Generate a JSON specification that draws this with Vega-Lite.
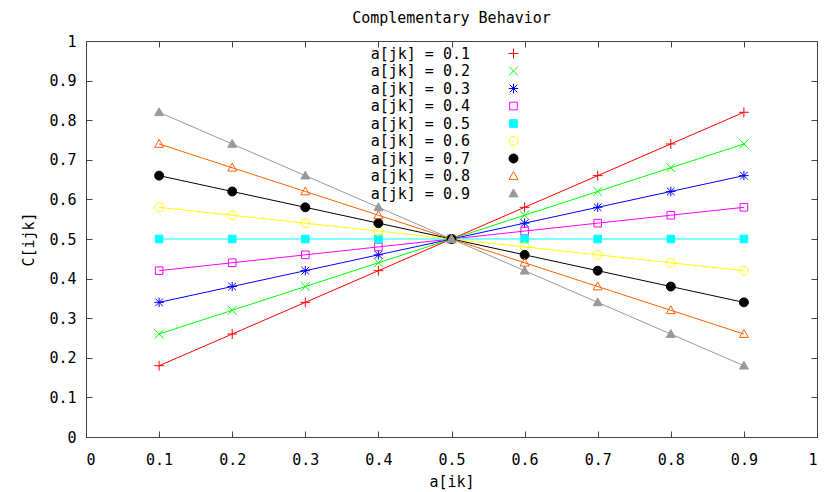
{
  "$schema": "https://vega.github.io/schema/vega-lite/v6.json",
  "width": 731,
  "height": 396,
  "autosize": {"type": "none"},
  "padding": {"left": 86, "top": 41, "right": 16, "bottom": 55},
  "background": "white",
  "title": {"text": "Complementary Behavior", "font": "DejaVu Sans Mono", "fontSize": 15, "fontWeight": "normal", "color": "black", "offset": 8, "anchor": "middle"},
  "config": {
    "view": {"stroke": null},
    "axis": {"labelFont": "DejaVu Sans Mono", "labelFontSize": 15, "labelColor": "black", "titleFont": "DejaVu Sans Mono", "titleFontSize": 15, "titleFontWeight": "normal", "titleColor": "black", "domainColor": "#444444", "tickColor": "#444444", "grid": false, "tickSize": -6, "labelPadding": 16}
  },
  "data": {"values": [
    {"s":"a[jk] = 0.1","x":0.1,"y":0.18},{"s":"a[jk] = 0.1","x":0.2,"y":0.26},{"s":"a[jk] = 0.1","x":0.3,"y":0.34},{"s":"a[jk] = 0.1","x":0.4,"y":0.42},{"s":"a[jk] = 0.1","x":0.5,"y":0.5},{"s":"a[jk] = 0.1","x":0.6,"y":0.58},{"s":"a[jk] = 0.1","x":0.7,"y":0.66},{"s":"a[jk] = 0.1","x":0.8,"y":0.74},{"s":"a[jk] = 0.1","x":0.9,"y":0.82},
    {"s":"a[jk] = 0.2","x":0.1,"y":0.26},{"s":"a[jk] = 0.2","x":0.2,"y":0.32},{"s":"a[jk] = 0.2","x":0.3,"y":0.38},{"s":"a[jk] = 0.2","x":0.4,"y":0.44},{"s":"a[jk] = 0.2","x":0.5,"y":0.5},{"s":"a[jk] = 0.2","x":0.6,"y":0.56},{"s":"a[jk] = 0.2","x":0.7,"y":0.62},{"s":"a[jk] = 0.2","x":0.8,"y":0.68},{"s":"a[jk] = 0.2","x":0.9,"y":0.74},
    {"s":"a[jk] = 0.3","x":0.1,"y":0.34},{"s":"a[jk] = 0.3","x":0.2,"y":0.38},{"s":"a[jk] = 0.3","x":0.3,"y":0.42},{"s":"a[jk] = 0.3","x":0.4,"y":0.46},{"s":"a[jk] = 0.3","x":0.5,"y":0.5},{"s":"a[jk] = 0.3","x":0.6,"y":0.54},{"s":"a[jk] = 0.3","x":0.7,"y":0.58},{"s":"a[jk] = 0.3","x":0.8,"y":0.62},{"s":"a[jk] = 0.3","x":0.9,"y":0.66},
    {"s":"a[jk] = 0.4","x":0.1,"y":0.42},{"s":"a[jk] = 0.4","x":0.2,"y":0.44},{"s":"a[jk] = 0.4","x":0.3,"y":0.46},{"s":"a[jk] = 0.4","x":0.4,"y":0.48},{"s":"a[jk] = 0.4","x":0.5,"y":0.5},{"s":"a[jk] = 0.4","x":0.6,"y":0.52},{"s":"a[jk] = 0.4","x":0.7,"y":0.54},{"s":"a[jk] = 0.4","x":0.8,"y":0.56},{"s":"a[jk] = 0.4","x":0.9,"y":0.58},
    {"s":"a[jk] = 0.5","x":0.1,"y":0.5},{"s":"a[jk] = 0.5","x":0.2,"y":0.5},{"s":"a[jk] = 0.5","x":0.3,"y":0.5},{"s":"a[jk] = 0.5","x":0.4,"y":0.5},{"s":"a[jk] = 0.5","x":0.5,"y":0.5},{"s":"a[jk] = 0.5","x":0.6,"y":0.5},{"s":"a[jk] = 0.5","x":0.7,"y":0.5},{"s":"a[jk] = 0.5","x":0.8,"y":0.5},{"s":"a[jk] = 0.5","x":0.9,"y":0.5},
    {"s":"a[jk] = 0.6","x":0.1,"y":0.58},{"s":"a[jk] = 0.6","x":0.2,"y":0.56},{"s":"a[jk] = 0.6","x":0.3,"y":0.54},{"s":"a[jk] = 0.6","x":0.4,"y":0.52},{"s":"a[jk] = 0.6","x":0.5,"y":0.5},{"s":"a[jk] = 0.6","x":0.6,"y":0.48},{"s":"a[jk] = 0.6","x":0.7,"y":0.46},{"s":"a[jk] = 0.6","x":0.8,"y":0.44},{"s":"a[jk] = 0.6","x":0.9,"y":0.42},
    {"s":"a[jk] = 0.7","x":0.1,"y":0.66},{"s":"a[jk] = 0.7","x":0.2,"y":0.62},{"s":"a[jk] = 0.7","x":0.3,"y":0.58},{"s":"a[jk] = 0.7","x":0.4,"y":0.54},{"s":"a[jk] = 0.7","x":0.5,"y":0.5},{"s":"a[jk] = 0.7","x":0.6,"y":0.46},{"s":"a[jk] = 0.7","x":0.7,"y":0.42},{"s":"a[jk] = 0.7","x":0.8,"y":0.38},{"s":"a[jk] = 0.7","x":0.9,"y":0.34},
    {"s":"a[jk] = 0.8","x":0.1,"y":0.74},{"s":"a[jk] = 0.8","x":0.2,"y":0.68},{"s":"a[jk] = 0.8","x":0.3,"y":0.62},{"s":"a[jk] = 0.8","x":0.4,"y":0.56},{"s":"a[jk] = 0.8","x":0.5,"y":0.5},{"s":"a[jk] = 0.8","x":0.6,"y":0.44},{"s":"a[jk] = 0.8","x":0.7,"y":0.38},{"s":"a[jk] = 0.8","x":0.8,"y":0.32},{"s":"a[jk] = 0.8","x":0.9,"y":0.26},
    {"s":"a[jk] = 0.9","x":0.1,"y":0.82},{"s":"a[jk] = 0.9","x":0.2,"y":0.74},{"s":"a[jk] = 0.9","x":0.3,"y":0.66},{"s":"a[jk] = 0.9","x":0.4,"y":0.58},{"s":"a[jk] = 0.9","x":0.5,"y":0.5},{"s":"a[jk] = 0.9","x":0.6,"y":0.42},{"s":"a[jk] = 0.9","x":0.7,"y":0.34},{"s":"a[jk] = 0.9","x":0.8,"y":0.26},{"s":"a[jk] = 0.9","x":0.9,"y":0.18}
  ]},
  "layer": [
    {
      "mark": {"type": "line", "strokeWidth": 1},
      "encoding": {
        "x": {"field": "x", "type": "quantitative", "scale": {"domain": [0, 1], "nice": false, "zero": false}, "axis": {"orient": "bottom", "title": "a[ik]", "values": [0,0.1,0.2,0.3,0.4,0.5,0.6,0.7,0.8,0.9,1], "format": "~g", "labelPadding": 21, "titlePadding": 7}},
        "y": {"field": "y", "type": "quantitative", "scale": {"domain": [0, 1], "nice": false, "zero": false}, "axis": {"orient": "left", "title": "C[ijk]", "values": [0,0.1,0.2,0.3,0.4,0.5,0.6,0.7,0.8,0.9,1], "format": "~g", "titlePadding": 12}},
        "color": {"field": "s", "type": "nominal", "scale": {"domain": ["a[jk] = 0.1","a[jk] = 0.2","a[jk] = 0.3","a[jk] = 0.4","a[jk] = 0.5","a[jk] = 0.6","a[jk] = 0.7","a[jk] = 0.8","a[jk] = 0.9"], "range": ["#ff0000","#00ff00","#0000ff","#ff00ff","#00ffff","#ffff00","#000000","#ff6000","#999999"]},
          "legend": {"title": null, "orient": "none", "legendX": 420, "legendY": 5, "padding": 0, "symbolSize": 81, "symbolStrokeWidth": 1, "symbolOpacity": 1, "labelAlign": "right", "labelOffset": -51, "labelFont": "DejaVu Sans Mono", "labelFontSize": 15, "labelColor": "black", "rowPadding": 1.5, "labelLimit": 0,
            "encode": {"symbols": {"update": {
              "shape": {"signal": "['M-4.8,0H4.8M0,-1.1V1.1','M-4.8,0H4.8M-0.9,-0.9L0.9,0.9M-0.9,0.9L0.9,-0.9','M-4.8,0H4.8M0,-1.05V1.05M-0.85,-0.85L0.85,0.85M-0.85,0.85L0.85,-0.85','M-4.8,0H4.8M-0.85,-0.85H0.85V0.85H-0.85Z','M-4.8,0H4.8M-0.85,-0.85H0.85V0.85H-0.85Z','M-4.8,0H4.8M0.95,0A0.95,0.95 0 1,1 -0.95,0A0.95,0.95 0 1,1 0.95,0Z','M-4.8,0H4.8M0.95,0A0.95,0.95 0 1,1 -0.95,0A0.95,0.95 0 1,1 0.95,0Z','M-4.8,0H4.8M0,-1L1,0.75H-1Z','M-4.8,0H4.8M0,-1L1,0.75H-1Z'][indexof(domain('color'), datum.value)]"},
              "fill": {"signal": "['transparent','transparent','transparent','transparent','#00ffff','transparent','#000000','transparent','#999999'][indexof(domain('color'), datum.value)]"},
              "stroke": {"signal": "scale('color', datum.value)"},
              "strokeWidth": {"value": 1},
              "opacity": {"value": 1}
            }}}}}
      }
    },
    {
      "mark": {"type": "point", "filled": false, "size": 80, "strokeWidth": 1, "opacity": 1},
      "encoding": {
        "x": {"field": "x", "type": "quantitative", "axis": null},
        "y": {"field": "y", "type": "quantitative", "axis": null},
        "color": {"field": "s", "type": "nominal", "legend": null},
        "fill": {"field": "s", "type": "nominal", "scale": {"domain": ["a[jk] = 0.1","a[jk] = 0.2","a[jk] = 0.3","a[jk] = 0.4","a[jk] = 0.5","a[jk] = 0.6","a[jk] = 0.7","a[jk] = 0.8","a[jk] = 0.9"], "range": ["transparent","transparent","transparent","transparent","#00ffff","transparent","#000000","transparent","#999999"]}, "legend": null},
        "shape": {"field": "s", "type": "nominal", "scale": {"domain": ["a[jk] = 0.1","a[jk] = 0.2","a[jk] = 0.3","a[jk] = 0.4","a[jk] = 0.5","a[jk] = 0.6","a[jk] = 0.7","a[jk] = 0.8","a[jk] = 0.9"], "range": ["M-1.1,0H1.1M0,-1.1V1.1","M-1,-1L1,1M-1,1L1,-1","M-1.05,0H1.05M0,-1.05V1.05M-0.85,-0.85L0.85,0.85M-0.85,0.85L0.85,-0.85","M-0.85,-0.85H0.85V0.85H-0.85Z","M-0.85,-0.85H0.85V0.85H-0.85Z","circle","circle","M0,-1L1,0.75H-1Z","M0,-1L1,0.75H-1Z"]}, "legend": null}
      }
    },
    {
      "mark": {"type": "point", "filled": false, "size": 10, "opacity": 0},
      "encoding": {
        "x": {"field": "x", "type": "quantitative", "axis": {"orient": "top", "labels": false, "title": null, "values": [0,0.1,0.2,0.3,0.4,0.5,0.6,0.7,0.8,0.9,1]}},
        "y": {"field": "y", "type": "quantitative", "axis": {"orient": "right", "labels": false, "title": null, "values": [0,0.1,0.2,0.3,0.4,0.5,0.6,0.7,0.8,0.9,1]}}
      }
    }
  ],
  "resolve": {"axis": {"x": "independent", "y": "independent"}}
}
